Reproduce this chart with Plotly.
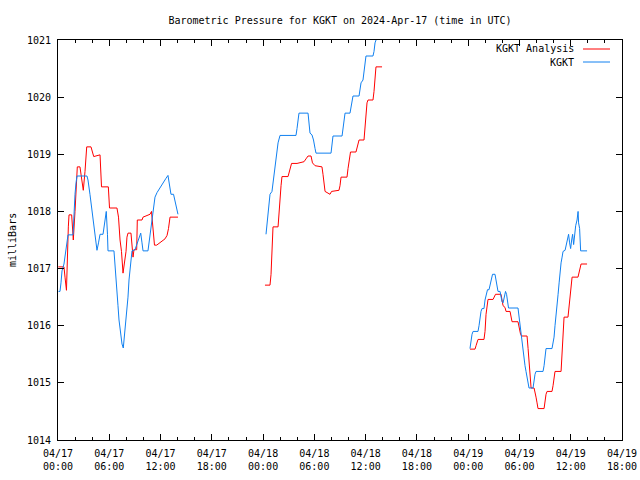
import pandas as pd
import plotly.graph_objects as go

TITLE = "Barometric Pressure for KGKT on 2024-Apr-17 (time in UTC)"
START = "2024-04-17 00:00"
END = "2024-04-19 18:00"

# hours since 2024-04-17 00:00 UTC, pressure in millibars
analysis_h1 = [0.04, 0.70, 0.82, 0.99, 1.21, 1.29, 1.60, 1.79, 1.99, 2.11, 2.26, 2.57, 2.69, 2.84, 2.96, 3.16, 3.36, 3.86, 3.98, 4.18, 4.92, 5.09, 5.89, 6.03, 6.90, 7.08, 7.26, 7.43, 7.61, 7.72, 7.96, 8.07, 8.19, 8.54, 8.66, 8.78, 8.89, 9.21, 9.28, 9.83, 9.95, 10.30, 10.77, 10.94, 11.06, 11.18, 11.29, 11.55, 11.94, 12.52, 12.76, 12.93, 13.11, 14.04]
analysis_p1 = [1017.03, 1017.03, 1016.85, 1016.62, 1017.73, 1017.94, 1017.94, 1017.5, 1018.0, 1018.4, 1018.78, 1018.78, 1018.67, 1018.5, 1018.37, 1018.7, 1019.13, 1019.13, 1019.05, 1018.96, 1018.99, 1018.43, 1018.43, 1018.06, 1018.06, 1017.9, 1017.5, 1017.3, 1016.92, 1017.05, 1017.3, 1017.55, 1017.62, 1017.62, 1017.38, 1017.2, 1017.33, 1017.33, 1017.85, 1017.85, 1017.9, 1017.92, 1017.95, 1018.0, 1017.8, 1017.55, 1017.41, 1017.41, 1017.45, 1017.52, 1017.58, 1017.7, 1017.9, 1017.9]

analysis_h2 = [24.22, 24.81, 24.93, 25.04, 25.16, 25.75, 25.86, 25.98, 26.10, 26.21, 26.92, 27.03, 27.21, 27.33, 27.97, 28.79, 29.02, 29.26, 29.61, 29.78, 30.08, 30.89, 31.01, 31.13, 31.25, 31.83, 32.01, 32.88, 33.00, 33.12, 33.82, 33.94, 34.05, 34.23, 34.87, 34.99, 35.11, 35.23, 35.81, 35.93, 36.04, 36.16, 36.28, 36.86, 36.98, 37.10, 37.21, 37.92]
analysis_p2 = [1016.71, 1016.71, 1016.9, 1017.35, 1017.73, 1017.73, 1017.9, 1018.2, 1018.45, 1018.61, 1018.61, 1018.68, 1018.78, 1018.84, 1018.84, 1018.87, 1018.92, 1018.97, 1018.97, 1018.85, 1018.8, 1018.78, 1018.65, 1018.5, 1018.35, 1018.3, 1018.35, 1018.37, 1018.45, 1018.6, 1018.6, 1018.75, 1018.9, 1019.04, 1019.04, 1019.1, 1019.2, 1019.25, 1019.25, 1019.45, 1019.7, 1019.9, 1019.95, 1019.95, 1020.1, 1020.3, 1020.53, 1020.53]

analysis_h3 = [48.21, 48.80, 48.92, 49.03, 49.15, 49.85, 49.97, 50.09, 50.20, 50.32, 50.91, 51.02, 51.20, 51.84, 51.96, 52.08, 52.31, 52.43, 52.90, 53.01, 53.13, 53.83, 53.95, 54.13, 54.25, 54.89, 55.01, 55.12, 55.24, 55.36, 55.71, 55.82, 55.94, 56.06, 56.17, 56.88, 56.99, 57.11, 57.23, 57.81, 57.93, 58.05, 58.16, 58.87, 58.99, 59.10, 59.22, 59.68, 59.80, 59.92, 60.04, 60.16, 60.85, 60.97, 61.09, 61.21, 61.91]
analysis_p3 = [1015.59, 1015.59, 1015.65, 1015.73, 1015.76, 1015.76, 1015.9, 1016.2, 1016.4, 1016.46, 1016.46, 1016.5, 1016.55, 1016.55, 1016.45, 1016.35, 1016.32, 1016.25, 1016.25, 1016.15, 1016.07, 1016.07, 1015.95, 1015.85, 1015.82, 1015.82, 1015.6, 1015.4, 1015.1, 1014.91, 1014.91, 1014.85, 1014.75, 1014.65, 1014.55, 1014.55, 1014.7, 1014.8, 1014.85, 1014.85, 1014.95, 1015.1, 1015.2, 1015.2, 1015.6, 1016.0, 1016.15, 1016.15, 1016.3, 1016.5, 1016.7, 1016.85, 1016.85, 1016.95, 1017.05, 1017.08, 1017.08]

obs_h1 = [0.06, 0.23, 0.35, 0.47, 0.70, 0.82, 1.05, 1.17, 1.76, 1.87, 1.99, 2.11, 2.22, 3.39, 3.51, 3.74, 3.98, 4.21, 4.45, 4.56, 4.74, 4.92, 5.27, 5.50, 5.65, 5.79, 5.85, 6.55, 6.67, 6.79, 6.90, 7.02, 7.14, 7.26, 7.37, 7.49, 7.64, 7.72, 7.84, 8.02, 8.19, 8.31, 8.48, 8.66, 9.01, 9.25, 9.48, 9.68, 9.83, 9.95, 10.53, 10.65, 10.77, 10.94, 11.12, 11.35, 11.59, 11.94, 12.29, 12.64, 12.87, 13.05, 13.22, 13.52, 13.69, 13.87, 14.04]
obs_p1 = [1016.6, 1016.6, 1016.75, 1016.96, 1017.08, 1017.22, 1017.45, 1017.59, 1017.59, 1018.0, 1018.3, 1018.5, 1018.62, 1018.62, 1018.55, 1018.3, 1018.0, 1017.7, 1017.45, 1017.32, 1017.45, 1017.6, 1017.6, 1017.85, 1018.0, 1017.6, 1017.31, 1017.31, 1017.1, 1016.85, 1016.6, 1016.35, 1016.1, 1015.95, 1015.8, 1015.68, 1015.61, 1015.73, 1015.9, 1016.2, 1016.5, 1016.8, 1017.1, 1017.31, 1017.33, 1017.45, 1017.55, 1017.62, 1017.45, 1017.31, 1017.31, 1017.45, 1017.6, 1017.8, 1018.05, 1018.25, 1018.33, 1018.42, 1018.5, 1018.58, 1018.63, 1018.45, 1018.3, 1018.3, 1018.2, 1018.05, 1017.95]

obs_h2 = [24.34, 24.46, 24.58, 24.69, 24.81, 25.04, 25.16, 25.28, 25.45, 25.63, 25.75, 25.98, 27.85, 27.97, 28.09, 28.20, 29.26, 29.37, 29.49, 29.72, 29.90, 30.08, 30.19, 31.95, 32.07, 32.18, 33.24, 33.36, 33.47, 33.59, 34.17, 34.29, 34.41, 34.52, 35.23, 35.34, 35.46, 35.69, 35.81, 35.93, 36.04, 36.86, 36.98, 37.10, 37.33, 37.92]
obs_p2 = [1017.6, 1017.8, 1018.0, 1018.2, 1018.3, 1018.35, 1018.5, 1018.7, 1018.9, 1019.05, 1019.2, 1019.33, 1019.33, 1019.45, 1019.6, 1019.72, 1019.72, 1019.5, 1019.37, 1019.34, 1019.25, 1019.1, 1019.02, 1019.02, 1019.2, 1019.32, 1019.32, 1019.45, 1019.6, 1019.72, 1019.72, 1019.85, 1019.95, 1020.02, 1020.02, 1020.15, 1020.25, 1020.3, 1020.45, 1020.6, 1020.72, 1020.72, 1020.8, 1020.95, 1021.05, 1021.3]

obs_h3 = [48.21, 48.33, 48.45, 48.57, 49.15, 49.27, 49.39, 49.50, 49.62, 49.85, 49.97, 50.09, 50.26, 50.44, 50.56, 50.67, 50.85, 51.14, 51.26, 51.38, 51.49, 51.73, 51.84, 51.96, 52.08, 52.19, 52.37, 52.49, 52.60, 52.72, 53.83, 53.95, 54.07, 54.19, 54.30, 54.42, 54.54, 54.65, 54.77, 54.89, 55.01, 55.12, 55.59, 55.71, 55.82, 55.94, 56.76, 56.88, 56.99, 57.11, 57.81, 57.93, 58.05, 58.16, 58.28, 58.40, 58.52, 58.64, 58.75, 58.87, 58.99, 59.10, 59.34, 59.46, 59.57, 59.75, 59.87, 59.99, 60.11, 60.22, 60.34, 60.46, 60.58, 60.74, 60.86, 60.92, 61.04, 61.16, 61.91]
obs_p3 = [1015.6, 1015.75, 1015.85, 1015.9, 1015.9, 1016.0, 1016.15, 1016.25, 1016.3, 1016.3, 1016.45, 1016.55, 1016.63, 1016.63, 1016.72, 1016.82, 1016.9, 1016.9, 1016.8, 1016.68, 1016.6, 1016.6, 1016.5, 1016.42, 1016.4, 1016.5, 1016.6, 1016.55, 1016.42, 1016.31, 1016.31, 1016.15, 1016.0, 1015.85, 1015.75, 1015.6, 1015.45, 1015.3, 1015.2, 1015.1, 1014.98, 1014.91, 1014.91, 1015.05, 1015.15, 1015.2, 1015.2, 1015.3, 1015.45, 1015.6, 1015.6, 1015.7, 1015.8, 1016.0, 1016.15, 1016.35, 1016.55, 1016.75, 1016.95, 1017.1, 1017.2, 1017.3, 1017.32, 1017.4, 1017.5, 1017.6, 1017.45, 1017.35, 1017.5, 1017.6, 1017.42, 1017.6, 1017.75, 1017.85, 1018.0, 1017.8, 1017.7, 1017.31, 1017.31]

x_tick_text = ["04/17<br>00:00", "04/17<br>06:00", "04/17<br>12:00", "04/17<br>18:00",
               "04/18<br>00:00", "04/18<br>06:00", "04/18<br>12:00", "04/18<br>18:00",
               "04/19<br>00:00", "04/19<br>06:00", "04/19<br>12:00", "04/19<br>18:00"]
y_ticks = [1014, 1015, 1016, 1017, 1018, 1019, 1020, 1021]
series_names = ["KGKT Analysis", "KGKT"]
series_colors = ["#ff0000", "#1080f0"]

base = pd.Timestamp(START)


def join(segs_h, segs_p):
    xs, ys = [], []
    for h, p in zip(segs_h, segs_p):
        if xs:
            xs.append(None)
            ys.append(None)
        xs.extend(base + pd.to_timedelta(h, unit="h"))
        ys.extend(p)
    return xs, ys


ax, ay = join([analysis_h1, analysis_h2, analysis_h3], [analysis_p1, analysis_p2, analysis_p3])
ox, oy = join([obs_h1, obs_h2, obs_h3], [obs_p1, obs_p2, obs_p3])

FONT = "DejaVu Sans Mono"
fig = go.Figure()
fig.add_trace(go.Scatter(x=ax, y=ay, mode="lines", name=series_names[0],
                         line=dict(color=series_colors[0], width=1), connectgaps=False))
fig.add_trace(go.Scatter(x=ox, y=oy, mode="lines", name=series_names[1],
                         line=dict(color=series_colors[1], width=1), connectgaps=False))

tickvals = pd.date_range(START, END, freq="6h")
two_h = 2 * 3600 * 1000

fig.update_layout(
    width=640, height=480,
    margin=dict(l=58, r=18, t=40, b=40, autoexpand=False),
    paper_bgcolor="white", plot_bgcolor="white",
    showlegend=False,
    font=dict(family=FONT, size=10, color="black"),
    title=dict(text=TITLE, x=340 / 640, xanchor="center", y=1 - 20 / 480, yanchor="middle",
               font=dict(family=FONT, size=10, color="black")),
    xaxis=dict(
        type="date", range=[START, END], tickvals=tickvals, ticktext=x_tick_text,
        ticks="inside", ticklen=6, tickcolor="black", tickwidth=1,
        showline=True, linecolor="black", linewidth=1, mirror="ticks",
        showgrid=False, zeroline=False, ticklabelstandoff=4, automargin=False,
        minor=dict(dtick=two_h, tick0=START, ticks="inside", ticklen=3,
                   tickcolor="black", showgrid=False),
        tickfont=dict(family=FONT, size=10),
    ),
    yaxis=dict(
        range=[1014, 1021], tickvals=y_ticks, ticktext=[str(v) for v in y_ticks],
        ticks="inside", ticklen=6, tickcolor="black", tickwidth=1,
        showline=True, linecolor="black", linewidth=1, mirror="ticks",
        showgrid=False, zeroline=False, ticklabelstandoff=4, automargin=False,
        tickfont=dict(family=FONT, size=10),
    ),
)

fig.add_annotation(text="milliBars", xref="paper", yref="paper",
                   x=(12 - 58) / 564, y=0.5, textangle=-90, showarrow=False,
                   xanchor="center", yanchor="middle", font=dict(family=FONT, size=10))

legend_y = [(440 - 49) / 400, (440 - 62) / 400]
for name, color, ly in zip(series_names, series_colors, legend_y):
    fig.add_annotation(text=name, xref="paper", yref="paper", x=(576 - 58) / 564, y=ly,
                       xanchor="right", yanchor="middle", showarrow=False,
                       font=dict(family=FONT, size=10))
    fig.add_shape(type="line", xref="paper", yref="paper",
                  x0=(583 - 58) / 564, x1=(610 - 58) / 564, y0=ly, y1=ly,
                  line=dict(color=color, width=1))

fig.write_html("out.html", config={"displayModeBar": False},
               post_script="document.body.style.margin='0px';document.body.style.overflow='hidden';")
